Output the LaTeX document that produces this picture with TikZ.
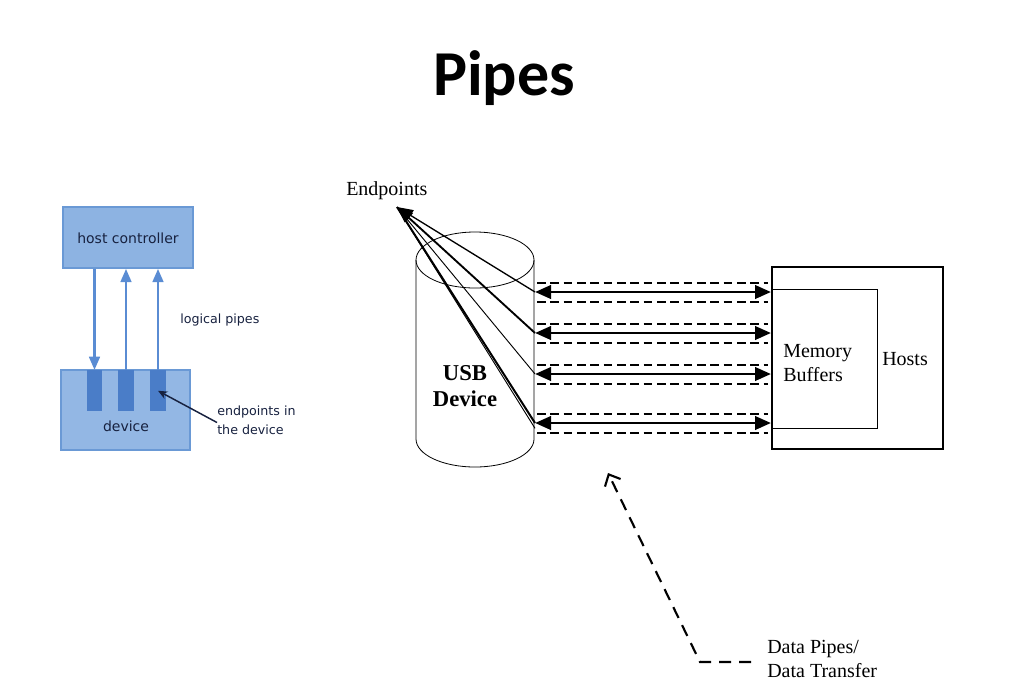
\documentclass[tikz,border=0pt]{standalone}
\usepackage{fontspec}
\setmainfont{Liberation Serif}
\newfontfamily\titlefont{Carlito}
\newfontfamily\dvs{DejaVu Sans}
\usetikzlibrary{arrows.meta}
\definecolor{boxfill}{HTML}{8DB3E2}
\definecolor{boxedge}{HTML}{6A99D5}
\definecolor{devfill}{HTML}{93B7E4}
\definecolor{epfill}{HTML}{4A7DC8}
\definecolor{pipeblue}{HTML}{5A8CD3}
\definecolor{navy}{HTML}{17213F}
\tikzset{
  bluebox/.style={draw=boxedge, line width=1.2pt, fill=boxfill, inner sep=0pt},
  epbox/.style={fill=epfill, draw=none, inner sep=0pt, minimum width=11.5pt, minimum height=30.75pt},
  bluetext/.style={font=\dvs\fontsize{10.5pt}{12.5pt}\selectfont, text=navy, inner sep=0pt},
  smalltext/.style={font=\dvs\fontsize{9.5pt}{14pt}\selectfont, text=navy, inner sep=0pt},
  pipe/.style={pipeblue, line width=2pt, -{Triangle[length=10pt,width=8pt]}},
  serif/.style={font=\fontsize{15pt}{18pt}\selectfont, inner sep=0pt},
  dbl/.style={line width=2.2pt, {Triangle[length=12pt,width=10pt]}-{Triangle[length=12pt,width=10pt]}},
  dsh/.style={line width=1.5pt, dash pattern=on 6.5pt off 3.5pt},
  fan/.style={line width=#1},
}
\begin{document}
\begin{tikzpicture}[x=0.75pt,y=-0.75pt]
\useasboundingbox (0,0) rectangle (1020,690);
% title
\node[font=\titlefont\bfseries\fontsize{48pt}{56pt}\selectfont] (title) at (504,78) {Pipes};

% ---- left diagram ----
\node[bluebox, minimum width=97.5pt, minimum height=45.75pt] (hc) at (128,237.5) {};
\node[bluetext] (hct) at (128,238) {host controller};
\node[bluebox, fill=devfill, minimum width=96.75pt, minimum height=60pt] (dev) at (125.5,410) {};
\node[bluetext] (devt) at (126,426) {device};
\node[epbox, anchor=north] (e1) at (94.5,370) {};
\node[epbox, anchor=north] (e2) at (126,370) {};
\node[epbox, anchor=north] (e3) at (158,370) {};
\draw[pipe] (hc.south -| e1.north) -- (e1.north);
\draw[pipe] (e2.north) -- (hc.south -| e2.north);
\draw[pipe] (e3.north) -- (hc.south -| e3.north);
\node[smalltext, anchor=west] (lp) at (180,320) {logical pipes};
\node[smalltext, anchor=north west, align=left] (ept) at (217,406) {endpoints in\\the device};
\draw[navy, line width=1.1pt, -{Stealth[length=7pt,width=6pt]}] (ept.west) ++(0,2) -- (e3.center);

% ---- right diagram ----
% cylinder
\draw[line width=0.6pt] (416,260) -- (416,439) arc[start angle=180,end angle=0,x radius=59,y radius=28] -- (534,260);
\draw[line width=0.6pt] (475,260) ellipse [x radius=59, y radius=28];
\node[font=\bfseries\fontsize{17pt}{20pt}\selectfont, align=center] (usb) at (465,386) {USB\\Device};
\coordinate (cyl) at (475,350);

% host box
\node[draw, line width=1.4pt, minimum width=128.25pt, minimum height=136.5pt, inner sep=0pt] (host) at (857.5,358) {};
\coordinate (mb1) at (772,289);
\coordinate (mb2) at (877,289);
\coordinate (mb3) at (877,428);
\coordinate (mb4) at (772,428);
\draw[line width=0.6pt] (mb1) -- (mb2) -- (mb3) -- (mb4);
\node[serif, align=left, anchor=west] (mem) at (783,363) {Memory\\Buffers};
\node[serif, anchor=west] (hosts) at (882,359) {Hosts};

% endpoints on device / host
\foreach \i/\y in {1/292,2/333,3/374,4/423}{
  \coordinate (ep\i) at (535,\y);
  \coordinate (hp\i) at (771,\y);
  \coordinate (da\i) at (537,\y-9.5);
  \coordinate (db\i) at (768,\y-9.5);
  \coordinate (dc\i) at (537,\y+9.5);
  \coordinate (dd\i) at (768,\y+9.5);
  \draw[dsh] (da\i) -- (db\i);
  \draw[dsh] (dc\i) -- (dd\i);
  \draw[dbl] (ep\i) -- (hp\i);
}

% Endpoints label and fan
\node[serif, anchor=west] (eplab) at (346,191) {Endpoints};
\coordinate (tip) at (397,207);
\draw[fan=1pt, -{Triangle[length=12pt,width=9pt]}] (ep1) -- (tip);
\draw[fan=1.4pt, -{Triangle[length=12pt,width=9pt]}] (ep2) -- (tip);
\draw[fan=0.7pt] (ep3) -- (tip);
\draw[fan=1.5pt] (ep4) -- (tip);
\draw[fan=0.7pt] ([yshift=-4]ep4) -- (tip);

% data pipes
\node[serif, anchor=north west, align=left] (dp) at (767,640) {Data Pipes/\\Data Transfer};
\coordinate (bend) at (700,662);
\coordinate (dptip) at (608,473);
\draw[line width=1.6pt, dash pattern=on 9pt off 6pt, -{Straight Barb[length=7pt,width=13pt,line width=1.6pt]}] (dp.west |- bend) ++(-16,0) -- (bend) -- (dptip);
\end{tikzpicture}
\end{document}
